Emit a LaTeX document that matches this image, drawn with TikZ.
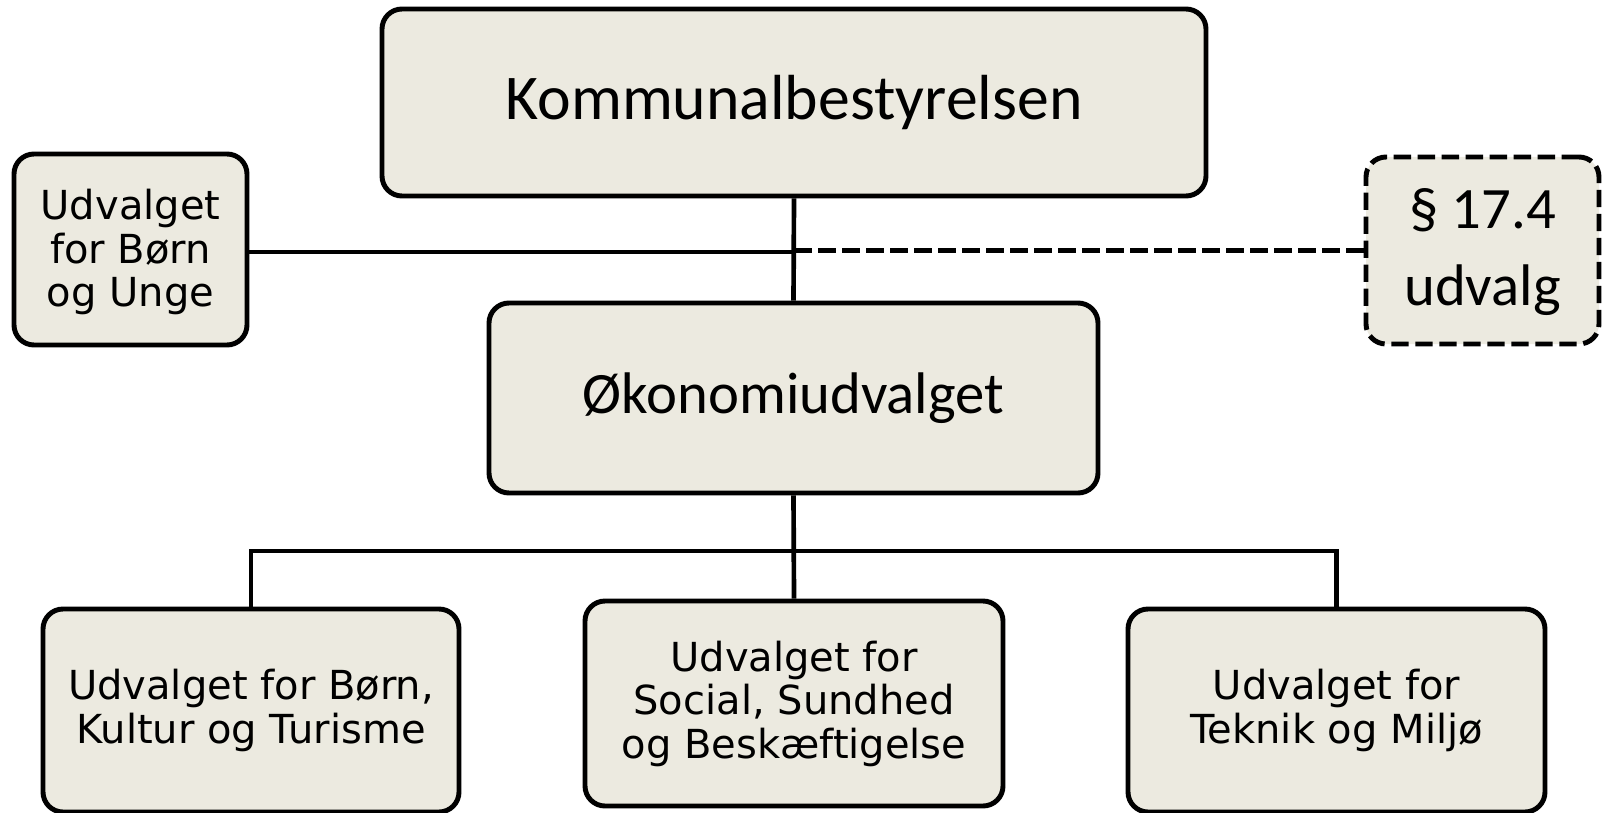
\documentclass[tikz,border=0pt]{standalone}
\usepackage{fontspec}
\setmainfont{DejaVu Sans}
\newfontfamily\calfont{Carlito}
\usetikzlibrary{fit}
\definecolor{boxfill}{RGB}{236,234,224}
\begin{document}
\begin{tikzpicture}[x=0.75pt,y=-0.75pt,
  box/.style={draw=black, fill=boxfill, line width=3.7pt, rounded corners=15pt, inner sep=0pt, align=center},
  dbox/.style={box, dash pattern=on 13pt off 5pt},
  conn/.style={line width=3.5pt},
  dconn/.style={conn, dash pattern=on 13.5pt off 4.5pt},
  vtext/.style={font=\fontsize{30}{32.6}\selectfont},
  bigtext/.style={font=\calfont\fontsize{47.8}{50}\selectfont},
  oektext/.style={font=\calfont\fontsize{44}{50}\selectfont},
  ptext/.style={font=\calfont\fontsize{44}{58}\selectfont}]
\useasboundingbox (0,0) rectangle (1602,813);
\node[box, fit={(382,9) (1206,196)}] (kb) {};
\node[bigtext] at (kb.center) {Kommunalbestyrelsen};
\node[box, fit={(489,303) (1098,493)}] (oek) {};
\node[oektext] at (oek.center) {Økonomiudvalget};
\node[box, fit={(14,154) (247,345)}] (bu) {};
\node[vtext, align=center] at ([yshift=-2pt]bu.center) {Udvalget\\for Børn\\og Unge};
\node[dbox, fit={(1366,157) (1599,344)}] (p) {};
\node[ptext, align=center] at ([yshift=-1pt]p.center) {§ 17.4\\udvalg};
\node[box, fit={(43,609) (459,812)}] (l) {};
\node[vtext, align=center] at (l.center) {Udvalget for Børn,\\Kultur og Turisme};
\node[box, fit={(585,601) (1003,806)}] (m) {};
\node[vtext, align=center] at (m.center) {Udvalget for\\Social, Sundhed\\og Beskæftigelse};
\node[box, fit={(1128,609) (1545,812)}] (r) {};
\node[vtext, align=center] at (r.center) {Udvalget for\\Teknik og Miljø};
\coordinate (j) at (794,252);
\coordinate (bus) at (794,551);
\draw[conn] (kb.south) -- (oek.north);
\draw[conn] (j -| bu.east) -- (j);
\draw[dconn] (p.west) -- (p.west -| kb.south);
\draw[conn] (oek.south) -- (m.north);
\draw[conn] (l.north) -- (l.north |- bus) -- (r.north |- bus) -- (r.north);
\end{tikzpicture}
\end{document}
